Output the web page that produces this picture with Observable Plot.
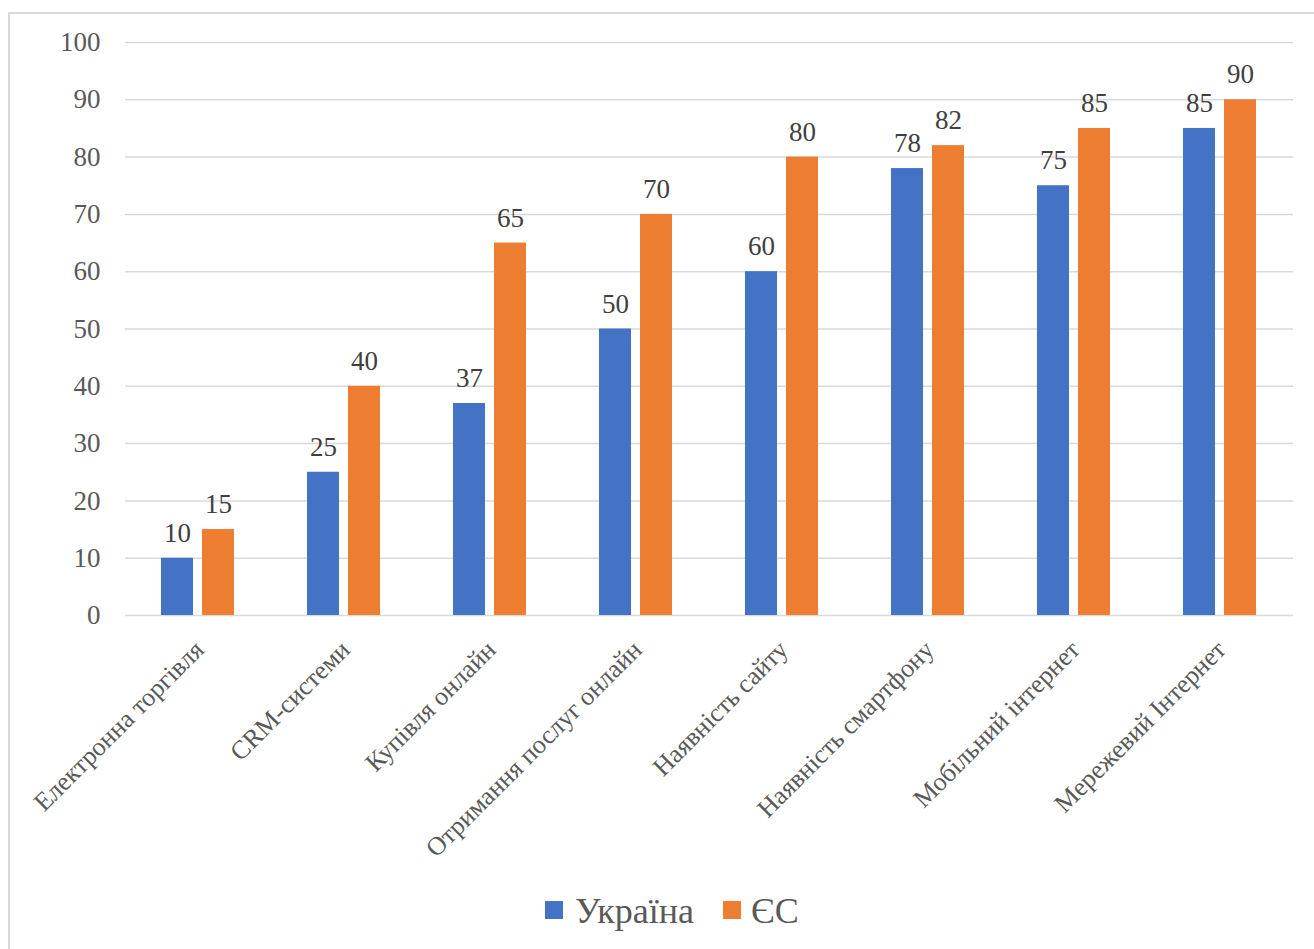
<!DOCTYPE html>
<html>
<head>
<meta charset="utf-8">
<script src="https://cdn.jsdelivr.net/npm/d3@7"></script>
<script src="https://cdn.jsdelivr.net/npm/@observablehq/plot@0.6"></script>
<style>
  html, body { margin: 0; padding: 0; background: #fff; overflow: hidden; }
  #wrap { position: relative; width: 1314px; height: 949px; font-family: "Liberation Serif", "Times New Roman", serif; }
  #frame { position: absolute; left: 8px; top: 12px; width: 1330px; height: 970px; border: 2px solid #d9d9d9; box-sizing: border-box; }
  #chart { position: absolute; left: 0; top: 0; }
  .sw { position: absolute; width: 18px; height: 18px; }
  .lt { position: absolute; font-size: 36px; line-height: 36px; color: #595959; white-space: nowrap; }
</style>
</head>
<body>
<div id="wrap">
  <div id="frame"></div>
  <div id="chart"></div>
  <div id="legend"></div>
</div>
<script>
const categories = [
  "Електронна торгівля",
  "CRM-системи",
  "Купівля онлайн",
  "Отримання послуг онлайн",
  "Наявність сайту",
  "Наявність смартфону",
  "Мобільний інтернет",
  "Мережевий Інтернет"
];
const series = ["Україна", "ЄС"];
const ukraine = [10, 25, 37, 50, 60, 78, 75, 85];
const eu = [15, 40, 65, 70, 80, 82, 85, 90];
const colors = ["#4472C4", "#ED7D31"];
const yTicks = [0, 10, 20, 30, 40, 50, 60, 70, 80, 90, 100];

const data = categories.flatMap((c, i) => [
  {category: c, series: series[0], value: ukraine[i]},
  {category: c, series: series[1], value: eu[i]}
]);

const serif = "'Liberation Serif', 'Times New Roman', serif";

const chart = Plot.plot({
  width: 1314,
  height: 870,
  marginLeft: 124,
  marginRight: 20,
  marginTop: 42,
  marginBottom: 255,
  style: {fontFamily: serif, background: "transparent", overflow: "visible"},
  fx: {domain: categories, padding: 0, label: null},
  x: {domain: series, paddingInner: 0.214, paddingOuter: 0.848, axis: null},
  y: {domain: [0, 100], label: null},
  color: {domain: series, range: colors},
  marks: [
    Plot.ruleY(yTicks, {stroke: "#d9d9d9", strokeWidth: 1.5}),
    Plot.barY(data, {fx: "category", x: "series", y: "value", fill: "series"}),
    Plot.text(data, {fx: "category", x: "series", y: "value", text: d => String(d.value), dy: -25, fontSize: 27, fill: "#404040", fontFamily: serif}),
    Plot.axisY({ticks: yTicks, tickSize: 0, tickPadding: 25, fontSize: 27, color: "#595959", label: null, fontFamily: serif}),
    Plot.axisFx({anchor: "bottom", tickRotate: -45, tickSize: 0, tickPadding: 30, dx: 1, fontSize: 26, color: "#595959", label: null, fontFamily: serif})
  ]
});
document.getElementById("chart").appendChild(chart);

const legend = document.getElementById("legend");
const legendPos = [{sx: 545, tx: 575}, {sx: 723, tx: 751}];
series.forEach((s, i) => {
  const sw = document.createElement("div");
  sw.className = "sw";
  sw.style.left = legendPos[i].sx + "px";
  sw.style.top = "901px";
  sw.style.background = colors[i];
  legend.appendChild(sw);
  const t = document.createElement("div");
  t.className = "lt";
  t.style.left = legendPos[i].tx + "px";
  t.style.top = "893px";
  t.textContent = s;
  legend.appendChild(t);
});
</script>
</body>
</html>
